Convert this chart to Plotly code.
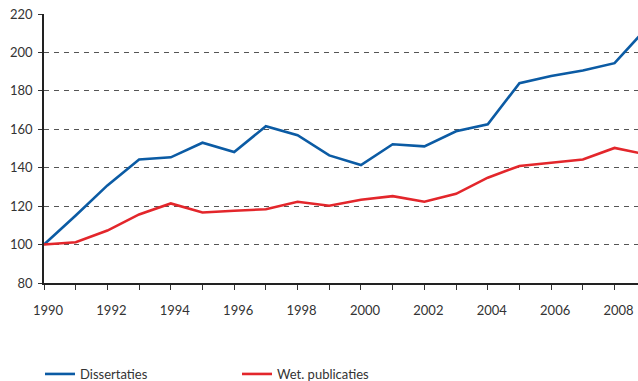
import plotly.graph_objects as go

years = list(range(1990, 2010))
dissertaties = [100, 115.1, 130.8, 144.3, 145.4, 153.0, 148.2, 161.6, 156.9, 146.4,
                141.4, 152.2, 151.1, 159.0, 162.6, 184.0, 187.7, 190.6, 194.4, 212.5]
wet_publicaties = [100, 101.2, 107.3, 115.7, 121.4, 116.7, 117.6, 118.4, 122.3, 120.2,
                   123.3, 125.2, 122.3, 126.4, 134.8, 140.9, 142.6, 144.3, 150.3, 146.9]
x_ticktext = [str(y) if y % 2 == 0 else "" for y in range(1990, 2009)]
y_ticks = [80, 100, 120, 140, 160, 180, 200, 220]

font_family = "Lato, 'Open Sans', sans-serif"

fig = go.Figure()
fig.add_trace(go.Scatter(x=years, y=dissertaties, mode="lines", name="Dissertaties",
                         line=dict(color="#0b5ba4", width=2.6)))
fig.add_trace(go.Scatter(x=years, y=wet_publicaties, mode="lines", name="Wet. publicaties",
                         line=dict(color="#e3262b", width=2.6)))

fig.update_layout(
    width=638, height=381,
    margin=dict(l=44, r=0, t=14, b=98, autoexpand=False),
    plot_bgcolor="white", paper_bgcolor="white",
    font=dict(family=font_family, size=13, color="#333333"),
    showlegend=True,
    legend=dict(orientation="h", x=-4 / 594, xref="paper", y=-91 / 269, yref="paper",
                xanchor="left", yanchor="middle",
                font=dict(size=13, color="#333333"),
                entrywidth=152, entrywidthmode="pixels",
                itemwidth=30, tracegroupgap=0, bgcolor="rgba(0,0,0,0)"),
    xaxis=dict(range=[1990, 2008.74], tickmode="array",
               tickvals=list(range(1990, 2009)), ticktext=x_ticktext,
               ticks="outside", ticklen=5, tickcolor="#333333", tickwidth=1,
               showline=True, linecolor="#222222", linewidth=1.5,
               showgrid=False, zeroline=False, automargin=False,
               ticklabelstandoff=10, ticklabelshift=4,
               tickfont=dict(size=13, color="#333333")),
    yaxis=dict(range=[80, 220], tickmode="array", tickvals=y_ticks,
               ticks="outside", ticklen=4, tickcolor="#333333", tickwidth=1,
               showline=True, linecolor="#222222", linewidth=1.5,
               showgrid=True, gridcolor="#555555", gridwidth=1, griddash="5px,5px",
               zeroline=False, ticklabelstandoff=3, automargin=False,
               tickfont=dict(size=13, color="#333333")),
)

fig.write_html("out.html", config={"displayModeBar": False},
               post_script="document.body.style.margin='0';document.body.style.padding='0';")
